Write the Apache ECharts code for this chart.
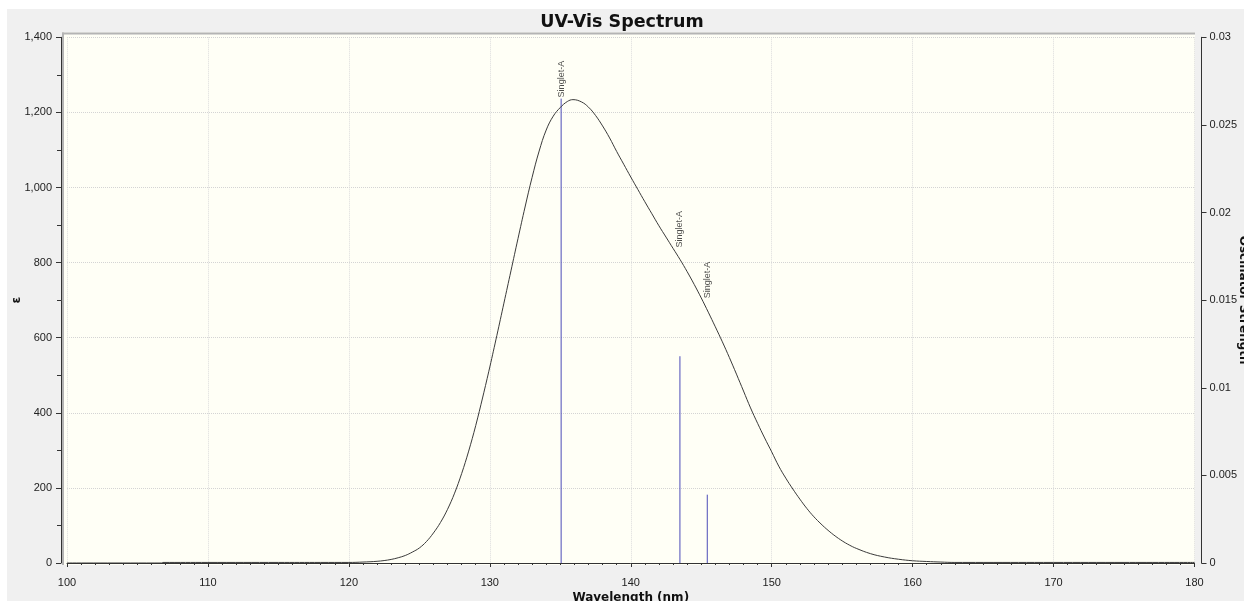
<!DOCTYPE html>
<html>
<head>
<meta charset="utf-8">
<script src="https://cdn.jsdelivr.net/npm/echarts@6/dist/echarts.min.js"></script>
<style>
html,body{margin:0;padding:0;background:#ffffff;}
#chart{width:1244px;height:601px;}
</style>
</head>
<body>
<div id="chart"></div>
<script>
// ---- data ----
const curveWavelength = [100, 106.7, 106.8, 110, 115, 118, 120, 121, 122, 122.5, 123, 123.5, 124, 124.5, 125, 125.5, 126, 126.5, 127, 127.5, 128, 128.5, 129, 129.5, 130, 130.5, 131, 131.5, 132, 132.5, 133, 133.5, 134, 134.5, 135, 135.5, 135.9, 136.5, 137, 137.5, 138, 138.5, 139, 139.5, 140, 140.5, 141, 141.5, 142, 142.5, 143, 143.5, 144, 144.5, 145, 145.5, 146, 146.5, 147, 147.5, 148, 148.5, 149, 149.5, 150, 150.5, 151, 151.5, 152, 152.5, 153, 153.5, 154, 154.5, 155, 155.5, 156, 157, 158, 159, 160, 161, 162, 163, 165, 170, 175, 180];
const curveEpsilon    = [0,   0,     1.5,   1.5, 1.5, 1.5, 1.5, 2.5, 4.5, 6.5,   9.5, 14,    20,  29,    40,  57,    80,  108,   143, 186,   238, 298,   366, 442,   522, 606,   692, 778,   864, 948,   1027, 1097, 1153, 1190, 1213, 1229, 1234, 1228, 1214, 1192, 1164, 1132, 1096, 1062, 1028, 995, 962, 930, 898, 868, 838, 808, 776, 742, 706, 668, 629, 589, 547, 503, 458, 413, 372, 333, 296, 258, 226, 197, 170, 145, 123, 104, 87, 72, 59, 48, 39, 25, 16, 10, 6, 4, 2.5, 1.5, 1.5, 1.5, 1.5, 1.5];

const stickWavelength = [135.06, 143.49, 145.43];
const stickStrength   = [0.0265, 0.0118, 0.0039];
const stickLabels     = ['Singlet-A', 'Singlet-A', 'Singlet-A'];
const labelEpsilon    = [1240, 840, 705];

const xTicks = {min: 100, max: 180, interval: 10};
const yLeftTicks = {min: 0, max: 1400, interval: 200};
const yRightTicks = {min: 0, max: 0.03, interval: 0.005};

// ---- build chart ----
const curveData = curveWavelength.map((w, i) => [w, curveEpsilon[i]]);
const stickData = stickWavelength.map((w, i) => [w, stickStrength[i]]);
const labelData = stickWavelength.map((w, i) => ({value: [w, labelEpsilon[i]], name: stickLabels[i]}));

const chart = echarts.init(document.getElementById('chart'), null, {renderer: 'canvas'});

const tickFont = {fontFamily: 'Liberation Sans', fontSize: 11, color: '#222'};

chart.setOption({
  animation: false,
  backgroundColor: '#ffffff',
  graphic: [
    {type: 'rect', z: -10, shape: {x: 7, y: 9, width: 1237, height: 592}, style: {fill: '#F0F0F0'}, silent: true},
    {type: 'rect', z: -9, shape: {x: 62, y: 32.5, width: 1133, height: 532.5}, style: {fill: '#FFFFF6'}, silent: true},
    {type: 'line', z: -8, shape: {x1: 62, y1: 33.5, x2: 1195, y2: 33.5}, style: {stroke: '#B4B4B4', lineWidth: 2}, silent: true},
    {type: 'line', z: -8, shape: {x1: 63, y1: 32.5, x2: 63, y2: 565}, style: {stroke: '#B4B4B4', lineWidth: 2}, silent: true}
  ],
  title: {
    text: 'UV-Vis Spectrum',
    left: 'center',
    top: 8,
    textStyle: {fontFamily: 'DejaVu Sans', fontWeight: 'bold', fontSize: 17.5, color: '#111'}
  },
  grid: {left: 67, right: 49.5, top: 37.3, bottom: 38, containLabel: false, outerBoundsMode: 'none'},
  xAxis: {
    type: 'value',
    min: xTicks.min, max: xTicks.max, interval: xTicks.interval,
    offset: 7,
    name: 'Wavelength (nm)',
    nameLocation: 'middle',
    nameGap: 22,
    nameMoveOverlap: false,
    nameTextStyle: {fontFamily: 'DejaVu Sans', fontWeight: 'bold', fontSize: 12, color: '#111'},
    axisLine: {show: true, lineStyle: {color: '#333', width: 1}},
    axisTick: {show: true, inside: false, length: 4, lineStyle: {color: '#333'}},
    minorTick: {show: true, splitNumber: 10, length: 2, lineStyle: {color: '#333'}},
    axisLabel: Object.assign({margin: 7}, tickFont),
    splitLine: {show: true, lineStyle: {color: '#DCDCDC', type: 'dotted', width: 1}}
  },
  yAxis: [
    {
      type: 'value',
      position: 'left',
      min: yLeftTicks.min, max: yLeftTicks.max, interval: yLeftTicks.interval,
      offset: 6,
      name: 'ε',
      nameLocation: 'middle',
      nameGap: 38,
      nameMoveOverlap: false,
      nameTextStyle: {fontFamily: 'DejaVu Sans', fontWeight: 'bold', fontSize: 12, color: '#111'},
      axisLine: {show: true, lineStyle: {color: '#333', width: 1}},
      axisTick: {show: true, inside: false, length: 5, lineStyle: {color: '#333'}},
      minorTick: {show: true, splitNumber: 2, length: 4, lineStyle: {color: '#333'}},
      axisLabel: Object.assign({margin: 9, formatter: v => v.toLocaleString('en-US')}, tickFont),
      splitLine: {show: true, lineStyle: {color: '#D4D4D4', type: 'dotted', width: 1}}
    },
    {
      type: 'value',
      position: 'right',
      min: yRightTicks.min, max: yRightTicks.max, interval: yRightTicks.interval,
      offset: 7,
      name: 'Oscillator Strength',
      nameLocation: 'middle',
      nameRotate: -90,
      nameGap: 36,
      nameMoveOverlap: false,
      nameTextStyle: {fontFamily: 'DejaVu Sans', fontWeight: 'bold', fontSize: 12, color: '#111'},
      axisLine: {show: true, lineStyle: {color: '#333', width: 1}},
      axisTick: {show: true, inside: false, length: 5, lineStyle: {color: '#333'}},
      minorTick: {show: false},
      axisLabel: Object.assign({margin: 8}, tickFont),
      splitLine: {show: false}
    }
  ],
  series: [
    {
      type: 'custom',
      name: 'sticks',
      xAxisIndex: 0,
      yAxisIndex: 1,
      data: stickData,
      renderItem: function (params, api) {
        const w = api.value(0), f = api.value(1);
        const p0 = api.coord([w, 0]);
        const p1 = api.coord([w, f]);
        return {
          type: 'line',
          shape: {x1: p0[0], y1: p0[1], x2: p1[0], y2: p1[1]},
          style: {stroke: '#4C4CB8', lineWidth: 1}
        };
      },
      z: 3
    },
    {
      type: 'line',
      name: 'spectrum',
      xAxisIndex: 0,
      yAxisIndex: 0,
      data: curveData,
      smooth: 0.4,
      showSymbol: false,
      symbol: 'none',
      lineStyle: {color: '#3A3A3A', width: 1},
      z: 4
    },
    {
      type: 'scatter',
      name: 'labels',
      xAxisIndex: 0,
      yAxisIndex: 0,
      data: labelData,
      symbolSize: 0.1,
      itemStyle: {color: 'rgba(0,0,0,0)'},
      label: {
        show: true,
        formatter: p => p.name,
        position: 'inside',
        rotate: 90,
        align: 'left',
        verticalAlign: 'middle',
        fontFamily: 'Liberation Sans',
        fontSize: 9,
        color: '#222'
      },
      z: 5
    }
  ]
});
</script>
</body>
</html>
